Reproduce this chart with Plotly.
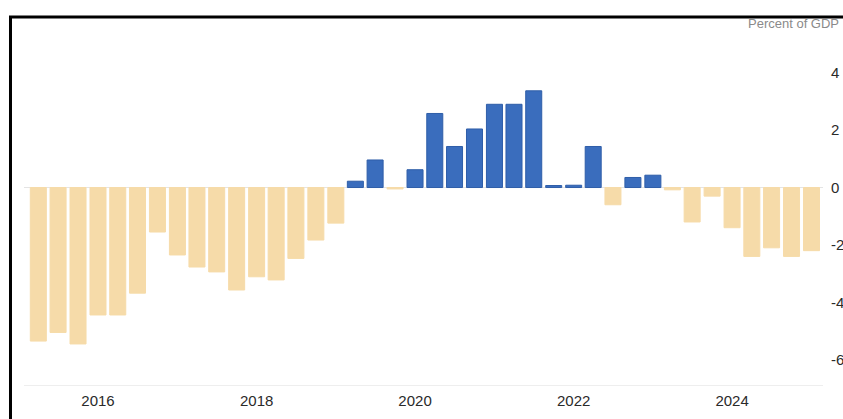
import plotly.graph_objects as go

quarters = [
    "2015-04-01", "2015-07-01", "2015-10-01",
    "2016-01-01", "2016-04-01", "2016-07-01", "2016-10-01",
    "2017-01-01", "2017-04-01", "2017-07-01", "2017-10-01",
    "2018-01-01", "2018-04-01", "2018-07-01", "2018-10-01",
    "2019-01-01", "2019-04-01", "2019-07-01", "2019-10-01",
    "2020-01-01", "2020-04-01", "2020-07-01", "2020-10-01",
    "2021-01-01", "2021-04-01", "2021-07-01", "2021-10-01",
    "2022-01-01", "2022-04-01", "2022-07-01", "2022-10-01",
    "2023-01-01", "2023-04-01", "2023-07-01", "2023-10-01",
    "2024-01-01", "2024-04-01", "2024-07-01", "2024-10-01",
    "2025-01-01",
]
values = [
    -5.35, -5.05, -5.45,
    -4.44, -4.44, -3.68, -1.55,
    -2.35, -2.77, -2.94, -3.57,
    -3.11, -3.22, -2.47, -1.83,
    -1.24, 0.22, 0.96, -0.05,
    0.62, 2.58, 1.43, 2.04,
    2.90, 2.90, 3.37, 0.07,
    0.08, 1.43, -0.60, 0.35,
    0.43, -0.08, -1.20, -0.30,
    -1.40, -2.40, -2.10, -2.40,
    -2.20,
]
year_ticks = ["2016-01-01", "2018-01-01", "2020-01-01", "2022-01-01", "2024-01-01"]
year_labels = ["2016", "2018", "2020", "2022", "2024"]
y_ticks = [-6, -4, -2, 0, 2, 4]
y_labels = ["-6", "-4", "-2", "0", "2", "4"]

BLUE = "#3a6dbd"
ORANGE = "#f6dba9"
colors = [BLUE if v > 0 else ORANGE for v in values]
lines = ["#2f5ea8" if v > 0 else ORANGE for v in values]

fig = go.Figure(go.Bar(
    x=quarters, y=values,
    marker=dict(color=colors, line=dict(color=lines, width=1)),
))

fig.update_layout(
    width=843, height=419,
    margin=dict(l=24, r=20, t=40, b=34, autoexpand=False),
    paper_bgcolor="white", plot_bgcolor="white",
    bargap=0.18,
    showlegend=False,
    font=dict(family="Liberation Sans, Arial, sans-serif", color="#333", size=14),
    xaxis=dict(
        type="date", automargin=False,
        range=["2015-01-25", "2025-02-23"],
        tickvals=year_ticks, ticktext=year_labels,
        showgrid=False, showline=True, linecolor="#eeeeee", linewidth=1,
        ticks="", tickfont=dict(size=15, color="#2a2a2a"),
        ticklabelstandoff=2,
    ),
    yaxis=dict(
        side="right", automargin=False,
        range=[-6.88, 5.14],
        tickvals=y_ticks, ticktext=y_labels,
        showgrid=False, zeroline=True, zerolinecolor="#e4e4e4", zerolinewidth=1,
        ticks="", tickfont=dict(size=15, color="#2a2a2a"),
        ticklabelstandoff=7,
    ),
    annotations=[dict(
        text="Percent of GDP", xref="paper", yref="paper",
        x=1.022, y=1.048, xanchor="right", yanchor="middle",
        showarrow=False, font=dict(size=13, color="#8a8a8a"),
    )],
    shapes=[dict(
        type="path", xref="paper", yref="paper",
        path="M -0.0169 -0.12 L -0.0169 1.0667 L 1.04 1.0667",
        line=dict(color="black", width=3),
    )],
)

fig.write_html("out.html")
